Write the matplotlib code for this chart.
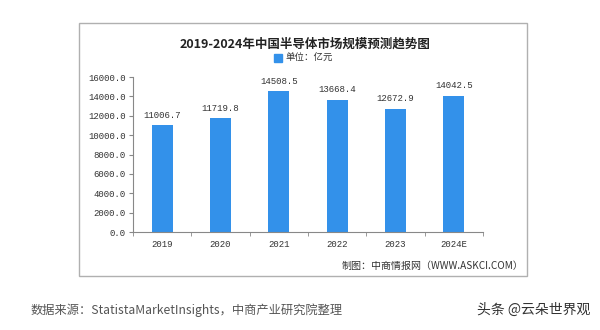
import matplotlib
matplotlib.use("Agg")
import matplotlib.pyplot as plt
from matplotlib.patches import Rectangle

plt.rcParams['font.family'] = ['Noto Sans CJK SC', 'DejaVu Sans']

years = ["2019", "2020", "2021", "2022", "2023", "2024E"]
values = [11006.7, 11719.8, 14508.5, 13668.4, 12672.9, 14042.5]
y_ticks = [0, 2000, 4000, 6000, 8000, 10000, 12000, 14000, 16000]

title = "2019-2024年中国半导体市场规模预测趋势图"
legend_label = "单位：亿元"
credit = "制图：中商情报网（WWW.ASKCI.COM）"
source = "数据来源：StatistaMarketInsights，中商产业研究院整理"
author = "头条 @云朵世界观"

W, H = 600, 330
fig = plt.figure(figsize=(W / 100, H / 100), dpi=100)
fig.patch.set_facecolor("white")

def fx(px):
    return px / W

def fy(py):
    return 1 - py / H

# outer frame of the chart card
fig.patches.append(Rectangle((fx(79), fy(276)), fx(527) - fx(79), fy(23) - fy(276),
                             transform=fig.transFigure, fill=False,
                             edgecolor="#b0b0b0", linewidth=1.0))

bar_color = "#3391EA"
num_font = "Liberation Mono"

ax = fig.add_axes([fx(133), fy(232), fx(483) - fx(133), fy(77) - fy(232)])
x = list(range(len(years)))
ax.bar(x, values, width=0.36, color=bar_color, zorder=2)
ax.set_xlim(-0.5, len(years) - 0.5)
ax.set_ylim(0, 16000)

ax.set_yticks(y_ticks)
ax.set_yticklabels([f"{v:.1f}" for v in y_ticks], fontsize=6.5, family=num_font, color="#333333")
ax.set_xticks(x)
ax.set_xticklabels(years, fontsize=6.5, family=num_font, color="#333333")
ax.set_xticks([i - 0.5 for i in range(len(years) + 1)], minor=True)
ax.tick_params(axis="x", which="major", length=0, pad=6)
ax.tick_params(axis="x", which="minor", length=3, color="#888888", direction="out")
ax.tick_params(axis="y", length=3, color="#888888", direction="out", pad=2)

for s in ["top", "right"]:
    ax.spines[s].set_visible(False)
for s in ["left", "bottom"]:
    ax.spines[s].set_color("#888888")
    ax.spines[s].set_linewidth(0.8)

for xi, v in zip(x, values):
    ax.text(xi, v + 600, f"{v:.1f}", ha="center", va="bottom", fontsize=6.5,
            family=num_font, color="#333333")

fig.text(fx(305), fy(44), title, ha="center", va="center", fontsize=9,
         fontweight="bold", color="#222222")

fig.patches.append(Rectangle((fx(274), fy(62)), fx(8), fy(54) - fy(62),
                             transform=fig.transFigure, color=bar_color))
fig.text(fx(285), fy(58), legend_label, ha="left", va="center", fontsize=6.8, color="#333333")

fig.text(fx(524), fy(266), credit, ha="right", va="center", fontsize=7.2,
         fontweight="medium", color="#333333")

fig.text(fx(31), fy(310), source, ha="left", va="center", fontsize=8.8, color="#555555")
fig.text(fx(590), fy(310), author, ha="right", va="center", fontsize=10, color="#333333")

fig.savefig("out.png", dpi=100, facecolor="white")
